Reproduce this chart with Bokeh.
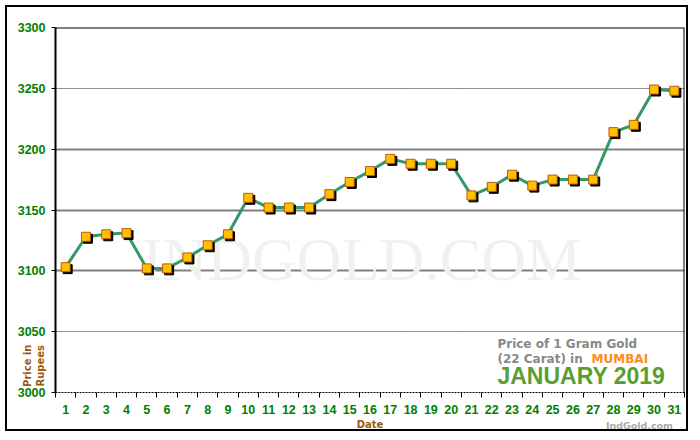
from bokeh.plotting import figure
from bokeh.models import FixedTicker, Grid, Span, Label, ColumnDataSource, LinearAxis
from bokeh.transform import dodge
from bokeh.embed import file_html
from bokeh.resources import INLINE

days = list(range(1, 32))
prices = [3103, 3128, 3130, 3131, 3102, 3102, 3111, 3121, 3130, 3160,
          3152, 3152, 3152, 3163, 3173, 3182, 3192, 3188, 3188, 3188,
          3162, 3169, 3179, 3170, 3175, 3175, 3175, 3214, 3220, 3249, 3248]
y_ticks = [3000, 3050, 3100, 3150, 3200, 3250, 3300]
solid_grid = [3100, 3150, 3200]
dotted_grid = [3050, 3250]
x_labels = [str(d) for d in days]
day_edges = [d - 0.5 for d in days] + [days[-1] + 0.5]
y_title = "Price in\nRupees"
credit_text = "IndGold.com"

GREEN = "#008000"
BROWN = "#9c5a10"

src = ColumnDataSource(dict(day=days, price=prices))

p = figure(width=683, height=426, output_backend="svg", toolbar_location=None,
           x_range=(0.5, 31.5), y_range=(3000, 3300),
           min_border_left=48, min_border_right=6, min_border_top=20, min_border_bottom=40,
           background_fill_color="white", border_fill_color="white")
p.styles = {"border": "2px solid black", "margin": "5px 0 0 5px"}
p.outline_line_color = None
p.xgrid.visible = False
p.ygrid.visible = False

g1 = Grid(dimension=1, ticker=FixedTicker(ticks=solid_grid),
          grid_line_color="#808080", grid_line_width=2)
g2 = Grid(dimension=1, ticker=FixedTicker(ticks=dotted_grid),
          grid_line_color="#222222", grid_line_width=1, grid_line_dash="1 1")
p.add_layout(g1)
p.add_layout(g2)

ya = p.yaxis[0]
ya.ticker = FixedTicker(ticks=y_ticks)
ya.major_label_text_color = GREEN
ya.major_label_text_font = "Liberation Sans"
ya.major_label_text_font_style = "bold"
ya.major_label_text_font_size = "12.5px"
ya.major_tick_out = 4
ya.major_tick_in = 0
ya.minor_tick_line_color = None
ya.major_label_standoff = 6
ya.axis_line_width = 2
ya.axis_line_color = "black"

# y title drawn as the single tick label of a bare second left axis
title_axis = LinearAxis(ticker=FixedTicker(ticks=[3022]), axis_line_color=None,
                        major_tick_line_color=None, minor_tick_line_color=None,
                        major_label_overrides={3022: y_title},
                        major_label_orientation="vertical",
                        major_label_text_color=BROWN, major_label_text_font="DejaVu Sans",
                        major_label_text_font_style="bold", major_label_text_font_size="10px",
                        major_label_text_line_height=1.2,
                        major_label_standoff=-38)
p.add_layout(title_axis, "left")

xa = p.xaxis[0]
xa.ticker = FixedTicker(ticks=days, minor_ticks=day_edges)
xa.major_label_overrides = {d: s for d, s in zip(days, x_labels)}
xa.major_label_text_color = GREEN
xa.major_label_text_font = "Liberation Sans"
xa.major_label_text_font_style = "bold"
xa.major_label_text_font_size = "12.5px"
xa.major_tick_out = 0
xa.major_tick_in = 0
xa.major_tick_line_color = None
xa.minor_tick_out = 5
xa.minor_tick_in = 0
xa.minor_tick_line_color = "black"
xa.major_label_standoff = 7
xa.axis_line_color = "black"
xa.axis_line_dash = "2 1"
xa.axis_label = "Date"
xa.axis_label_text_color = BROWN
xa.axis_label_text_font = "DejaVu Sans"
xa.axis_label_text_font_style = "bold"
xa.axis_label_text_font_size = "10px"
xa.axis_label_standoff = 2

# site credit as the single tick label of a bare second bottom axis
credit = LinearAxis(ticker=FixedTicker(ticks=[29.28]), axis_line_color=None,
                    major_tick_line_color=None, minor_tick_line_color=None,
                    major_label_overrides={29.28: credit_text},
                    major_label_text_color="#aaaaaa", major_label_text_font="DejaVu Sans",
                    major_label_text_font_style="bold", major_label_text_font_size="9.5px",
                    major_label_standoff=-19)
p.add_layout(credit, "below")

p.add_layout(Span(location=3300, dimension="width", line_color="black", line_width=2))
p.add_layout(Span(location=31.5, dimension="height", line_color="black", line_width=2))

p.add_layout(Label(x=15.58, y=3109.8, text="INDGOLD.COM", text_align="center",
                   text_baseline="alphabetic", text_font="Liberation Serif",
                   text_font_size="62px", text_color="#eff2ef", level="underlay"))

p.line("day", "price", source=src, line_color="#339966", line_width=3)
p.scatter(dodge("day", 0.1), dodge("price", -1.6), source=src, marker="square",
          size=9, fill_color="black", line_color="black")
p.scatter("day", "price", source=src, marker="square", size=9,
          fill_color="#ffc000", line_color="#c05800", line_width=1)

p.add_layout(Label(x=22.28, y=3040, text="Price of 1 Gram Gold", text_baseline="middle",
                   text_font="DejaVu Sans", text_font_style="bold", text_font_size="12px",
                   text_color="#888888"))
p.add_layout(Label(x=22.28, y=3027.5, text="(22 Carat) in", text_baseline="middle",
                   text_font="DejaVu Sans", text_font_style="bold", text_font_size="12px",
                   text_color="#888888"))
p.add_layout(Label(x=26.92, y=3027.5, text="MUMBAI", text_baseline="middle",
                   text_font="DejaVu Sans", text_font_style="bold", text_font_size="12px",
                   text_color="#ff8c1a"))
p.add_layout(Label(x=22.28, y=3013.5, text="JANUARY 2019", text_baseline="middle",
                   text_font="Liberation Sans", text_font_style="bold", text_font_size="23px",
                   text_color="#5a9e32"))

open("out.html", "w").write(file_html(p, INLINE))
